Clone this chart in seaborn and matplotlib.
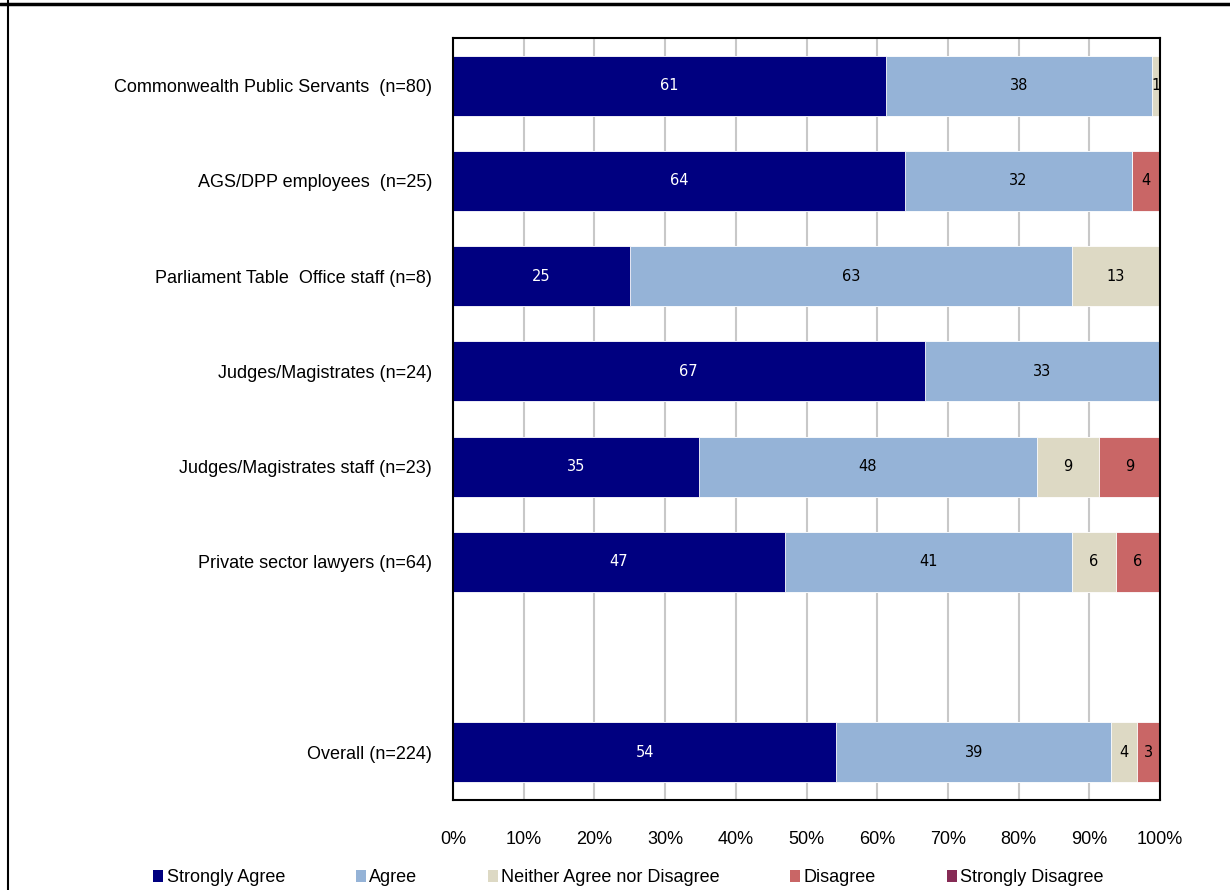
import matplotlib
matplotlib.use("Agg")
import matplotlib.pyplot as plt
import seaborn as sns
import pandas as pd
import numpy as np
from matplotlib.patches import Patch
from matplotlib.lines import Line2D

categories = [
    "Commonwealth Public Servants  (n=80)",
    "AGS/DPP employees  (n=25)",
    "Parliament Table  Office staff (n=8)",
    "Judges/Magistrates (n=24)",
    "Judges/Magistrates staff (n=23)",
    "Private sector lawyers (n=64)",
    "Overall (n=224)",
]
order = categories[:6] + [" "] + categories[6:]

series_names = ["Strongly Agree", "Agree", "Neither Agree nor Disagree", "Disagree", "Strongly Disagree"]
strongly_agree = [61.3, 64.0, 25.0, 66.7, 34.8, 46.9, 54.2]
agree = [37.5, 32.0, 62.5, 33.3, 47.8, 40.6, 38.9]
neither = [1.2, 0.0, 12.5, 0.0, 8.7, 6.3, 3.6]
disagree = [0.0, 4.0, 0.0, 0.0, 8.7, 6.2, 3.3]
strongly_disagree = [0.0, 0.0, 0.0, 0.0, 0.0, 0.0, 0.0]

colors = ["#000080", "#95B3D7", "#DDD9C4", "#C96666", "#862B55"]
label_colors = ["white", "black", "black", "black", "white"]

series = [strongly_agree, agree, neither, disagree, strongly_disagree]
vals = np.array(series)  # shape (5, 7)
cum = np.cumsum(vals, axis=0)

sns.set_theme(style="white")
plt.rcParams["font.family"] = ["Liberation Sans", "DejaVu Sans"]

fig = plt.figure(figsize=(12.3, 8.9), dpi=100)
ax = fig.add_axes([0.3683, 0.1011, 0.5748, 0.8562])

bar_h = 0.63
# draw from the largest cumulative to the smallest so segments stack
for i in reversed(range(5)):
    df = pd.DataFrame({"cat": categories, "val": cum[i]})
    sns.barplot(data=df, x="val", y="cat", order=order, orient="h",
                color=colors[i], width=bar_h, ax=ax, saturation=1,
                edgecolor="white", linewidth=0.6)

# segment labels
pos = {c: order.index(c) for c in categories}
for i in range(5):
    for j, c in enumerate(categories):
        v = vals[i, j]
        if v <= 0:
            continue
        start = cum[i, j] - v
        x = start + v / 2
        ax.text(x, pos[c], f"{int(np.floor(v + 0.5))}", ha="center", va="center",
                fontsize=10.5, color=label_colors[i], family="DejaVu Sans")

ax.set_xlim(0, 100)
ax.set_ylim(len(order) - 0.5, -0.5)
ax.set_xticks(np.arange(0, 101, 10))
ax.set_xticklabels([f"{t}%" for t in range(0, 101, 10)], fontsize=13, color="black")
ax.tick_params(axis="x", pad=22, length=0)
ax.tick_params(axis="y", length=0, pad=15, labelsize=13, labelcolor="black")
ax.set_xlabel("")
ax.set_ylabel("")
ax.xaxis.grid(True, color="#C8C8C8", linewidth=1.5)
ax.set_axisbelow(True)
for s in ax.spines.values():
    s.set_visible(True)
    s.set_color("black")
    s.set_linewidth(1.5)

handles = [Patch(facecolor=colors[i], edgecolor="none", label=series_names[i]) for i in range(5)]
fig.legend(handles=handles, loc="lower center", bbox_to_anchor=(0.511, -0.014), ncol=5,
           frameon=False, fontsize=13, handlelength=0.55, handleheight=0.7,
           handletextpad=0.2, columnspacing=3.9, labelcolor="black")

# outer frame (clipped report border)
fig.add_artist(Line2D([0.0065, 0.0065], [0, 1], color="black", linewidth=1.5, transform=fig.transFigure))
fig.add_artist(Line2D([0, 1], [0.9955, 0.9955], color="black", linewidth=2.5, transform=fig.transFigure))

fig.savefig("out.png", dpi=100)
